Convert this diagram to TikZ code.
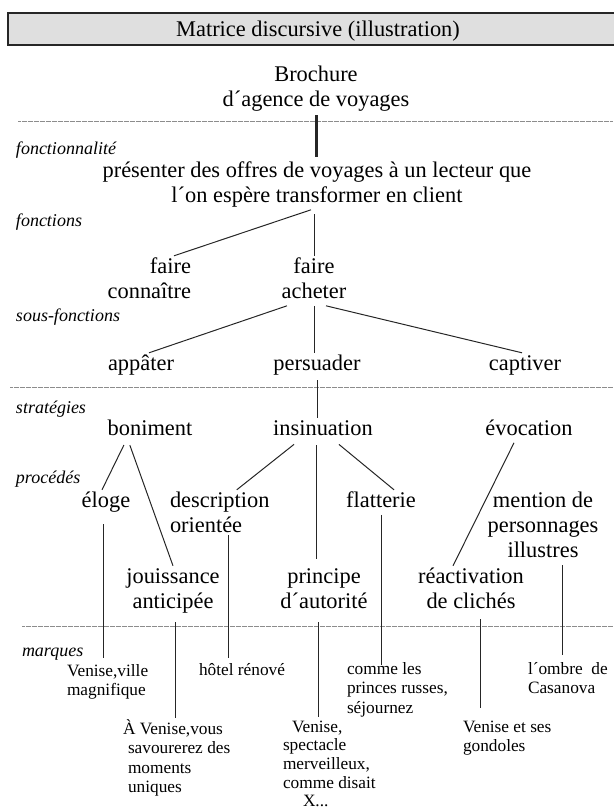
\documentclass[tikz,border=0pt]{standalone}
\usepackage{fontspec}
\setmainfont{Liberation Serif}
\newcommand\mlc[1]{\begin{tabular}[t]{@{}c@{}}#1\end{tabular}}
\newcommand\mll[1]{\begin{tabular}[t]{@{}l@{}}#1\end{tabular}}
\newcommand\mlr[1]{\begin{tabular}[t]{@{}r@{}}#1\end{tabular}}
\begin{document}
\begin{tikzpicture}[x=1pt,y=-1pt,
  txt/.style={inner sep=0pt, outer sep=0pt, anchor=mid, yshift=-5pt, font=\fontsize{22.4}{25}\selectfont},
  lab/.style={inner sep=0pt, outer sep=0pt, anchor=mid west, yshift=-4pt, font=\fontsize{18}{20}\selectfont\itshape},
  marq/.style={inner sep=0pt, outer sep=0pt, anchor=mid west, yshift=-4pt, font=\fontsize{17.3}{19.5}\selectfont},
  conn/.style={line width=1pt, draw=black!85},
  thickbar/.style={line width=3pt, draw=black!85},
  sepline/.style={draw=black!45, line width=0.9pt, dash pattern=on 0.7pt off 0.5pt},
  headbox/.style={draw=black!85, line width=2.5pt, fill=gray!25}]
\useasboundingbox (0,0) rectangle (613,811);
% header
\draw[headbox] (8,13) rectangle (625,45);
\node[txt] (title) at (318,29) {\mlc{Matrice discursive (illustration)}};
% separators
\draw[sepline] (18,121) -- (613,121);
\draw[sepline] (10,387) -- (613,387);
\draw[sepline] (22,626) -- (613,626);
% level labels
\node[lab] (lfct) at (16,148) {fonctionnalité};
\node[lab] (lfon) at (16,220) {fonctions};
\node[lab] (lsf) at (16,315) {sous-fonctions};
\node[lab] (lstr) at (16,407) {stratégies};
\node[lab] (lpro) at (16,477) {procédés};
\node[lab] (lmar) at (22,650) {marques};
% main nodes
\node[txt] (broch) at (316,74) {\mlc{Brochure\\d´agence de voyages}};
\node[txt] (pres) at (317,170) {\mlc{présenter des offres de voyages à un lecteur que\\l´on espère transformer en client}};
\node[txt, anchor=mid east] (fc) at (191,266) {\mlr{faire\\connaître}};
\node[txt] (fa) at (314,266) {\mlc{faire\\acheter}};
\node[txt] (app) at (141,363) {\mlc{appâter}};
\node[txt] (pers) at (317,363) {\mlc{persuader}};
\node[txt] (capt) at (525,363) {\mlc{captiver}};
\node[txt] (bon) at (150,428) {\mlc{boniment}};
\node[txt] (ins) at (323,428) {\mlc{insinuation}};
\node[txt] (evoc) at (529,428) {\mlc{évocation}};
\node[txt] (elo) at (106,500) {\mlc{éloge}};
\node[txt, anchor=mid west] (desc) at (170,500) {\mll{description\\orientée}};
\node[txt] (flat) at (381,500) {\mlc{flatterie}};
\node[txt] (ment) at (543,500) {\mlc{mention de\\personnages\\illustres}};
\node[txt] (jou) at (173,576) {\mlc{jouissance\\anticipée}};
\node[txt] (prin) at (324,576) {\mlc{principe\\d´autorité}};
\node[txt] (react) at (471,576) {\mlc{réactivation\\de clichés}};
% marques
\node[marq] (m1) at (67,670) {\mll{Venise,ville\\magnifique}};
\node[marq] (m2) at (199,669) {\mll{hôtel rénové}};
\node[marq] (m3) at (347,668) {\mll{comme les\\princes russes,\\séjournez}};
\node[marq] (m4) at (528,668) {\mll{l´ombre~ de\\Casanova}};
\node[marq] (m5) at (123,728) {\mll{À Venise,vous\\\hspace*{5pt}savourerez des\\\hspace*{5pt}moments\\\hspace*{5pt}uniques}};
\node[marq, font=\fontsize{17.3}{18.6}\selectfont] (m6) at (283,726) {\mll{\hspace*{9pt}Venise,\\spectacle\\merveilleux,\\comme disait\\\hspace*{20pt}X...}};
\node[marq] (m7) at (463,726) {\mll{Venise et ses\\gondoles}};
% connectors
\draw[thickbar, shorten <=1.5pt, shorten >=2.5pt] (broch.south) -- (broch.south |- pres.north);
\draw[conn] ([xshift=-6pt]pres.south) -- ([xshift=-17pt]fc.north east);
\draw[conn, shorten <=4.5pt] (fa.north |- pres.south) -- (fa.north);
\draw[conn] ([xshift=-27pt]fa.south) -- ([xshift=8pt]app.north);
\draw[conn] (fa.south) -- (fa.south |- pers.north);
\draw[conn] ([xshift=12pt]fa.south) -- ([xshift=-3pt]capt.north);
\draw[conn, shorten <=2.5pt] (pers.south) -- (pers.south |- ins.north);
\draw[conn, shorten <=2.5pt] ([xshift=-25pt]bon.south) -- ([xshift=-4pt]elo.north);
\draw[conn, shorten <=2.5pt] ([xshift=-21pt]bon.south) -- (jou.north);
\draw[conn, shorten <=2.5pt] ([xshift=-27pt]ins.south) -- ([xshift=17pt]desc.north);
\coordinate (p1) at ([xshift=-7pt]ins.south);
\draw[conn, shorten <=2.5pt, shorten >=6.5pt] (p1) -- (p1 |- prin.north);
\draw[conn, shorten <=2.5pt] ([xshift=14pt]ins.south) -- ([xshift=13pt]flat.north);
\draw[conn] ([xshift=-15pt]evoc.south) -- ([xshift=-18pt]react.north);
% to marques
\coordinate (q1) at ([xshift=-3pt]elo.south);
\draw[conn, shorten <=9.5pt, shorten >=5pt] (q1) -- (q1 |- m1.north);
\coordinate (q2) at ([xshift=2pt]jou.south);
\draw[conn, shorten <=6.5pt, shorten >=1pt] (q2) -- (q2 |- m5.north);
\coordinate (q3) at ([xshift=9pt]desc.south);
\draw[conn, shorten <=-4.5pt, shorten >=4pt] (q3) -- (q3 |- m2.north);
\coordinate (q4) at ([xshift=-6pt]prin.south);
\draw[conn, shorten <=6.5pt, shorten >=2pt] (q4) -- (q4 |- m6.north);
\coordinate (q5) at (flat.south);
\draw[conn, shorten >=-4pt] (q5) -- (q5 |- m3.north);
\coordinate (q6) at ([xshift=9pt]react.south);
\draw[conn, shorten <=3.5pt, shorten >=11pt] (q6) -- (q6 |- m7.north);
\coordinate (q7) at ([xshift=19pt]ment.south);
\draw[conn, shorten <=0.5pt, shorten >=6pt] (q7) -- (q7 |- m4.north);
\end{tikzpicture}
\end{document}
